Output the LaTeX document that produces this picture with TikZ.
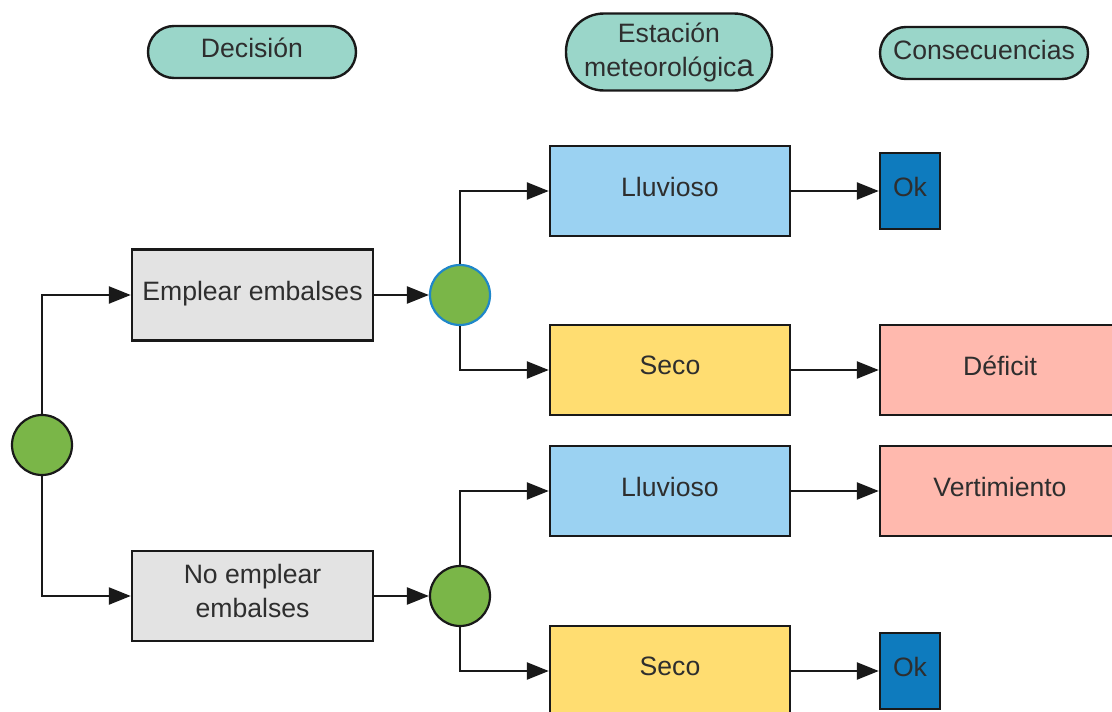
\documentclass[tikz,border=0pt]{standalone}
\usepackage{fontspec}
\setmainfont{Liberation Sans}
\usetikzlibrary{arrows.meta}
\definecolor{stad}{HTML}{9AD6C9}
\definecolor{greybox}{HTML}{E3E3E3}
\definecolor{rainy}{HTML}{9BD2F2}
\definecolor{dry}{HTML}{FFDD71}
\definecolor{bad}{HTML}{FFB9AE}
\definecolor{okblue}{HTML}{0E7BBE}
\definecolor{chance}{HTML}{7AB648}
\definecolor{ringblue}{HTML}{1F87C9}
\definecolor{txt}{HTML}{2E2E2E}
\begin{document}
\begin{tikzpicture}[x=1pt,y=-1pt,
  every node/.style={font=\fontsize{26.6}{34}\selectfont, text=txt},
  base/.style={draw=black!90, line width=2.4pt, rectangle, inner sep=0pt, align=center},
  stadium/.style={base, fill=stad, minimum height=52pt, minimum width=208pt, rounded corners=26pt},
  greyb/.style={base, fill=greybox, minimum width=241pt, minimum height=91pt},
  wbox/.style={base, minimum width=240pt, minimum height=90pt, text depth=9pt},
  okbox/.style={base, fill=okblue, minimum width=60pt, minimum height=76pt, text depth=9pt},
  chancenode/.style={circle, draw=black!90, line width=2.2pt, fill=chance, minimum size=60pt, inner sep=0pt},
  conn/.style={line width=2.4pt, draw=black!90, -{Triangle[length=22pt,width=17pt]}}]
\useasboundingbox (0,0) rectangle (1112,712);
\clip (0,0) rectangle (1112,712);
% headers
\node[stadium, text depth=9pt] (dec) at (252,52) {Decisión};
\node[stadium, minimum height=77pt, minimum width=206pt, rounded corners=38pt, text depth=4pt] (est) at (669,52) {Estación\\meteorológic{\fontsize{31}{34}\selectfont a}};
\node[stadium, text depth=6pt] (cons) at (984,53) {Consecuencias};
% decision nodes
\node[chancenode] (c0) at (42,445) {};
\node[greyb, text depth=9pt] (emp) at (252.5,295) {Emplear embalses};
\node[greyb, minimum height=90pt, text depth=10pt] (noemp) at (252.5,596) {No emplear\\embalses};
\node[chancenode, draw=ringblue] (c1) at (460,295) {};
\node[chancenode] (c2) at (460,596) {};
% weather
\node[wbox, fill=rainy] (ll1) at (670,191) {Lluvioso};
\node[wbox, fill=dry] (se1) at (670,370) {Seco};
\node[wbox, fill=rainy] (ll2) at (670,491) {Lluvioso};
\node[wbox, fill=dry] (se2) at (670,671) {Seco};
% consequences
\node[okbox] (ok1) at (910,191) {Ok};
\node[wbox, fill=bad] (def) at (1000,370) {Déficit};
\node[wbox, fill=bad] (ver) at (1000,491) {Vertimiento};
\node[okbox] (ok2) at (910,671) {Ok};
% connectors
\draw[conn] (c0.north) |- (emp.west);
\draw[conn] (c0.south) |- (noemp.west);
\draw[conn] (emp.east) -- (c1.west);
\draw[conn] (noemp.east) -- (c2.west);
\draw[conn] (c1.north) |- (ll1.west);
\draw[conn] (c1.south) |- (se1.west);
\draw[conn] (c2.north) |- (ll2.west);
\draw[conn] (c2.south) |- (se2.west);
\draw[conn] (ll1.east) -- (ok1.west);
\draw[conn] (se1.east) -- (def.west);
\draw[conn] (ll2.east) -- (ver.west);
\draw[conn] (se2.east) -- (ok2.west);
\end{tikzpicture}
\end{document}
